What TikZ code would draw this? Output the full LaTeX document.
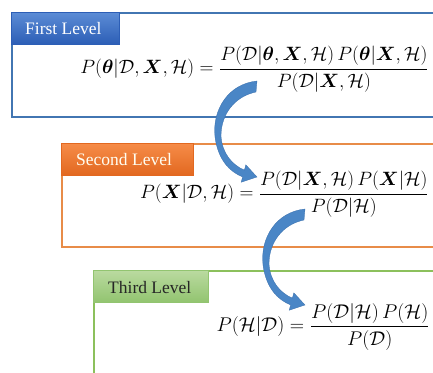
\documentclass[tikz,border=0pt]{standalone}
\usepackage{amsmath}
\usepackage{bm}
\usepackage{graphicx}
\usepackage{fontspec}
\setmainfont{Liberation Serif}
\definecolor{bluebd}{RGB}{66,118,178}
\definecolor{bluetop}{RGB}{92,140,214}
\definecolor{bluebot}{RGB}{44,94,182}
\definecolor{orbd}{RGB}{232,140,72}
\definecolor{ortop}{RGB}{246,140,72}
\definecolor{orbot}{RGB}{226,104,32}
\definecolor{grbd}{RGB}{140,192,92}
\definecolor{grtop}{RGB}{186,218,160}
\definecolor{grbot}{RGB}{146,196,112}
\definecolor{arrfill}{RGB}{74,134,198}
\definecolor{arrdark}{RGB}{56,110,172}
\newcommand{\eqscale}[2][1.117]{\scalebox{#1}{$\displaystyle #2$}}
\tikzset{
  lvlbox/.style={draw=#1, line width=1.8pt, inner sep=0pt, anchor=north west},
  lvllabel/.style n args={3}{draw=#1, line width=0.6pt, top color=#2, bottom color=#3,
     inner sep=0pt, anchor=north west, minimum height=32pt},
  lvltext/.style={font=\fontsize{17.5}{20}\selectfont, anchor=base west, inner sep=0pt},
  eqn/.style={font=\fontsize{17.28}{20}\selectfont, anchor=base east, inner sep=0pt},
  curvarr/.pic={
    \fill[arrfill, draw=arrdark, line width=0.3pt]
      (0,0) .. controls (-29,3) and (-45,29) .. (-42,56)
      .. controls (-39,79) and (-27,91) .. (-14.4,95.9)
      -- (-15.8,101.2) -- (0,96) -- (-11.2,83.8) -- (-12.6,89.1)
      .. controls (-25,84) and (-35,72) .. (-36,55)
      .. controls (-36,32) and (-21,15) .. (-1,11) -- cycle;
  }
}
\begin{document}
\begin{tikzpicture}[x=1pt,y=-1pt]
\useasboundingbox[fill=white] (0,0) rectangle (433,372);
\begin{scope}
\clip (0,0) rectangle (433,372);
% boxes
\node[lvlbox=bluebd, minimum width=480pt, minimum height=104pt] (box1) at (11,12) {};
\node[lvlbox=orbd, minimum width=430pt, minimum height=103pt] (box2) at (61,143) {};
\node[lvlbox=grbd, minimum width=400pt, minimum height=140pt] (box3) at (93,270) {};
% labels
\node[lvllabel={bluebot}{bluetop}{bluebot}, minimum width=108pt] (lab1) at (11,12) {};
\node[lvltext, text=white] (t1) at (25,34) {First Level};
\node[lvllabel={orbot}{ortop}{orbot}, minimum width=132pt] (lab2) at (61,143) {};
\node[lvltext, text=white!95!yellow] (t2) at (76,165) {Second Level};
\node[lvllabel={grbot}{grtop}{grbot}, minimum width=115pt] (lab3) at (93,270) {};
\node[lvltext, text=black!85] (t3) at (108,293) {Third Level};
% equations
\node[eqn] (eq1) at (429,73.8)
  {\eqscale{P(\bm{\theta}|\mathcal{D},\bm{X},\mathcal{H})=\frac{P(\mathcal{D}|\bm{\theta},\bm{X},\mathcal{H})\,P(\bm{\theta}|\bm{X},\mathcal{H})}{P(\mathcal{D}|\bm{X},\mathcal{H})}}};
\node[eqn] (eq2) at (429,198.8)
  {\eqscale{P(\bm{X}|\mathcal{D},\mathcal{H})=\frac{P(\mathcal{D}|\bm{X},\mathcal{H})\,P(\bm{X}|\mathcal{H})}{P(\mathcal{D}|\mathcal{H})}}};
\node[eqn] (eq3) at (430,331.8)
  {\eqscale[1.15]{P(\mathcal{H}|\mathcal{D})=\frac{P(\mathcal{D}|\mathcal{H})\,P(\mathcal{H})}{P(\mathcal{D})}}};
% curved arrows
\coordinate (a1) at (257,81);
\coordinate (a2) at (305,209);
\pic at (a1) {curvarr};
\pic at (a2) {curvarr};
\end{scope}
\end{tikzpicture}
\end{document}
